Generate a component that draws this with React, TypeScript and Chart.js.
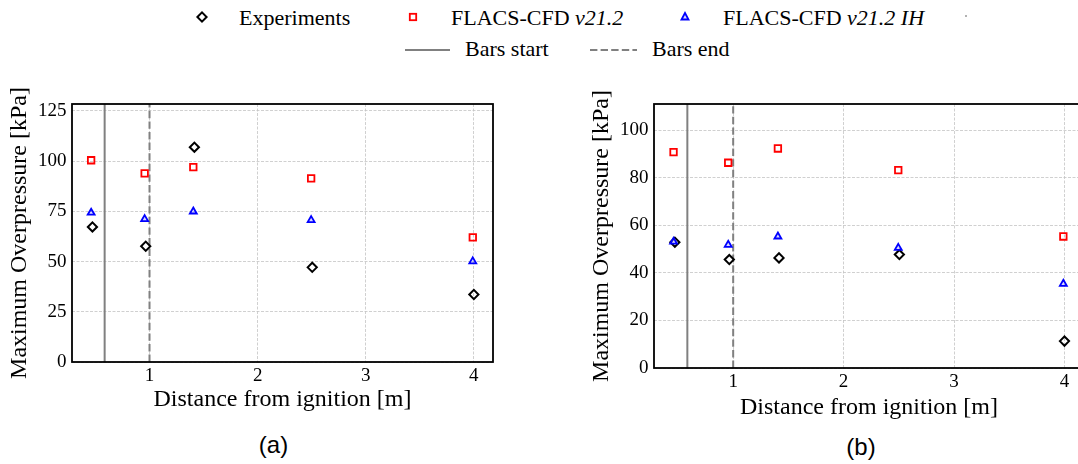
import React, { useEffect, useRef } from "react";
import { Chart, registerables } from "chart.js";

Chart.register(...registerables);

// ---------- data ----------
const xModel = [0.46, 0.955, 1.405, 2.495, 3.99];
const xExp = [0.472, 0.965, 1.415, 2.505, 4.0];

const expA = [67.2, 57.6, 106.9, 47.1, 33.6];
const flacsA = [100.4, 93.9, 97.0, 91.4, 62.0];
const ihA = [74.3, 71.1, 74.9, 70.6, 50.1];

const expB = [52.9, 45.6, 46.3, 47.7, 11.3];
const flacsB = [90.8, 86.3, 92.3, 83.2, 55.3];
const ihB = [53.1, 51.8, 55.3, 50.5, 35.4];

const barsStart = 0.585;
const barsEnd = 1.0;

const xTicks = [1, 2, 3, 4];
const yTicksA = [0, 25, 50, 75, 100, 125];
const yTicksB = [0, 20, 40, 60, 80, 100];

const xMin = 0.283;
const xMax = 4.177;
const yMaxA = 128.4;
const yMaxB = 111;

const SERIF = '"Liberation Serif", "Times New Roman", serif';
const SANS = '"Liberation Sans", Arial, sans-serif';
const GRAY = "#808080";

const framePlugin = {
  id: "frame",
  afterDraw(chart: any) {
    const { ctx, chartArea: a } = chart;
    ctx.save();
    ctx.strokeStyle = "#000";
    ctx.lineWidth = 1.8;
    ctx.strokeRect(a.left, a.top, a.right - a.left, a.bottom - a.top);
    ctx.restore();
  },
};

function pts(xs: number[], ys: number[]) {
  return ys.map((y, i) => ({ x: xs[i], y }));
}

function makeConfig(
  exp: number[],
  flacs: number[],
  ih: number[],
  yMax: number,
  yTicks: number[],
  xAxisHeight: number,
  padRight: number,
  titleBottomPad: number
): any {
  return {
    type: "scatter",
    data: {
      datasets: [
        {
          label: "FLACS-CFD v21.2 IH",
          data: pts(xModel, ih),
          pointStyle: "triangle",
          pointRadius: 4,
          pointBorderWidth: 1.8,
          borderColor: "#0000ff",
          backgroundColor: "rgba(0,0,255,0.15)",
          order: 0,
        },
        {
          label: "FLACS-CFD v21.2",
          data: pts(xModel, flacs),
          pointStyle: "rect",
          pointRadius: 4.6,
          pointBorderWidth: 1.8,
          borderColor: "#ff0000",
          backgroundColor: "rgba(0,0,0,0)",
          order: 1,
        },
        {
          label: "Experiments",
          data: pts(xExp, exp),
          pointStyle: "rectRot",
          pointRadius: 4.6,
          pointBorderWidth: 2,
          borderColor: "#000000",
          backgroundColor: "rgba(0,0,0,0)",
          order: 2,
        },
        {
          label: "Bars start",
          data: [
            { x: barsStart, y: 0 },
            { x: barsStart, y: yMax },
          ],
          showLine: true,
          pointRadius: 0,
          borderColor: GRAY,
          borderWidth: 2,
          order: 3,
        },
        {
          label: "Bars end",
          data: [
            { x: barsEnd, y: 0 },
            { x: barsEnd, y: yMax },
          ],
          showLine: true,
          pointRadius: 0,
          borderColor: GRAY,
          borderWidth: 2,
          borderDash: [7.4, 3.2],
          order: 4,
        },
      ],
    },
    options: {
      animation: false,
      responsive: false,
      events: [],
      layout: { padding: { top: 24, right: padRight, left: 0, bottom: 0 } },
      plugins: {
        legend: { display: false },
        tooltip: { enabled: false },
      },
      scales: {
        x: {
          type: "linear",
          min: xMin,
          max: xMax,
          afterBuildTicks: (s: any) => {
            s.ticks = xTicks.map((v) => ({ value: v }));
          },
          afterFit: (s: any) => {
            s.height = xAxisHeight;
          },
          grid: { color: "#c4c4c4", lineWidth: 0.8, drawTicks: false },
          border: { display: false, dash: [3, 1.5] },
          ticks: {
            color: "#000",
            font: { family: SERIF, size: 19 },
            padding: 3,
            maxRotation: 0,
            autoSkip: false,
            callback: (v: any) => String(v),
          },
          title: {
            display: true,
            text: "Distance from ignition [m]",
            color: "#000",
            font: { family: SERIF, size: 24 },
            padding: { top: 0, bottom: titleBottomPad },
          },
        },
        y: {
          type: "linear",
          min: 0,
          max: yMax,
          afterBuildTicks: (s: any) => {
            s.ticks = yTicks.map((v) => ({ value: v }));
          },
          afterFit: (s: any) => {
            s.width = 72;
          },
          grid: { color: "#c4c4c4", lineWidth: 0.8, drawTicks: false },
          border: { display: false, dash: [3, 1.5] },
          ticks: {
            color: "#000",
            font: { family: SERIF, size: 19 },
            padding: 5.5,
            autoSkip: false,
            callback: (v: any) => String(v),
          },
          title: {
            display: true,
            text: "Maximum Overpressure [kPa]",
            color: "#000",
            font: { family: SERIF, size: 24 },
            padding: { top: 5.6, bottom: 0 },
          },
        },
      },
    },
    plugins: [framePlugin],
  };
}

function ChartCanvas(props: {
  left: number;
  top: number;
  width: number;
  height: number;
  config: () => any;
}) {
  const ref = useRef<HTMLCanvasElement | null>(null);
  useEffect(() => {
    if (!ref.current) return;
    const chart = new Chart(ref.current, props.config());
    return () => chart.destroy();
  }, []);
  return (
    <canvas
      ref={ref}
      width={props.width}
      height={props.height}
      style={{
        position: "absolute",
        left: props.left,
        top: props.top,
        width: props.width,
        height: props.height,
      }}
    />
  );
}

const textStyle = (left: number, top: number): React.CSSProperties => ({
  position: "absolute",
  left,
  top,
  fontFamily: SERIF,
  fontSize: 22,
  lineHeight: "22px",
  whiteSpace: "nowrap",
  color: "#000",
});

function Legend() {
  return (
    <>
      <svg
        width={1078}
        height={70}
        style={{ position: "absolute", left: 0, top: 0 }}
      >
        <path
          d="M197.4,17 L202,12.4 L206.6,17 L202,21.6 Z"
          fill="none"
          stroke="#000"
          strokeWidth={2}
        />
        <rect
          x={409.8}
          y={13.8}
          width={6.4}
          height={6.4}
          fill="none"
          stroke="#ff0000"
          strokeWidth={1.8}
        />
        <path
          d="M685,13 L688.5,19.5 L681.5,19.5 Z"
          fill="rgba(0,0,255,0.15)"
          stroke="#0000ff"
          strokeWidth={1.8}
        />
        <circle cx={966} cy={16} r={1} fill="#999" />
        <line x1={405} y1={50} x2={450} y2={50} stroke={GRAY} strokeWidth={2} />
        <line
          x1={590}
          y1={50}
          x2={637}
          y2={50}
          stroke={GRAY}
          strokeWidth={2}
          strokeDasharray="7.4 3.2"
        />
      </svg>
      <span style={textStyle(239, 6.6)}>Experiments</span>
      <span style={textStyle(451, 6.6)}>
        FLACS-CFD <i>v21.2</i>
      </span>
      <span style={textStyle(723, 6.6)}>
        FLACS-CFD <i>v21.2 IH</i>
      </span>
      <span style={textStyle(465, 38.3)}>Bars start</span>
      <span style={textStyle(652, 38.3)}>Bars end</span>
    </>
  );
}

const subLabel = (cx: number, top: number): React.CSSProperties => ({
  position: "absolute",
  left: cx - 50,
  width: 100,
  top,
  textAlign: "center",
  fontFamily: SANS,
  fontSize: 24,
  lineHeight: "24px",
  color: "#000",
});

export default function App() {
  return (
    <div
      style={{
        position: "absolute",
        left: 0,
        top: 0,
        width: 1078,
        height: 464,
        overflow: "hidden",
        background: "#fff",
      }}
    >
      <Legend />
      <ChartCanvas
        left={0}
        top={80}
        width={500}
        height={350}
        config={() =>
          makeConfig(expA, flacsA, ihA, yMaxA, yTicksA, 68, 7, 15.6)
        }
      />
      <ChartCanvas
        left={582}
        top={80}
        width={510}
        height={350}
        config={() =>
          makeConfig(expB, flacsB, ihB, yMaxB, yTicksB, 62, 8, 7.6)
        }
      />
      <div style={subLabel(273.5, 433)}>(a)</div>
      <div style={subLabel(861, 435)}>(b)</div>
    </div>
  );
}
